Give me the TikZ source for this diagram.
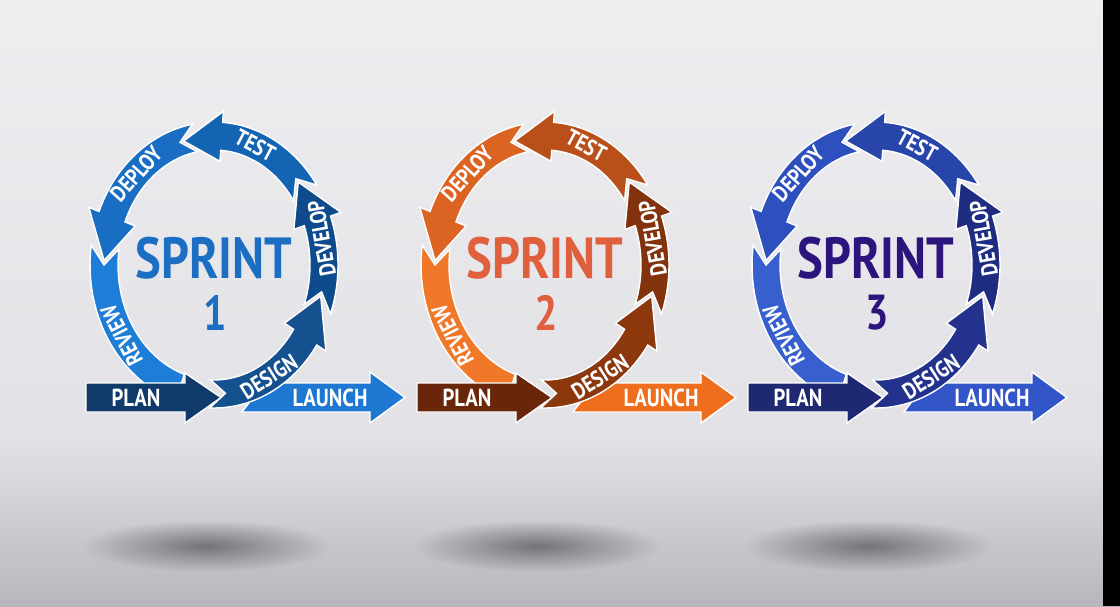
\documentclass[tikz,border=0pt]{standalone}
\usepackage{fontspec}
\newfontfamily\sprintfont{PT Sans}[FakeStretch=0.84]
\usepackage{xcolor}
\usepackage{tikz}
\usetikzlibrary{fadings}

% colour sets: a = blue, b = orange, c = indigo
\definecolor{aplan}{HTML}{0F3A69}
\definecolor{adesign}{HTML}{15508F}
\definecolor{adevelop}{HTML}{0F4B8C}
\definecolor{atest}{HTML}{1464B4}
\definecolor{adeploy}{HTML}{196EC3}
\definecolor{areview}{HTML}{1E7DD7}
\definecolor{alaunch}{HTML}{1E78D2}
\definecolor{atitle}{HTML}{1C6EC3}

\definecolor{bplan}{HTML}{69260A}
\definecolor{bdesign}{HTML}{8C370C}
\definecolor{bdevelop}{HTML}{82320C}
\definecolor{btest}{HTML}{B95019}
\definecolor{bdeploy}{HTML}{DC6423}
\definecolor{breview}{HTML}{F07828}
\definecolor{blaunch}{HTML}{EE6E1E}
\definecolor{btitle}{HTML}{E0603E}

\definecolor{cplan}{HTML}{1E2873}
\definecolor{cdesign}{HTML}{23328C}
\definecolor{cdevelop}{HTML}{1E2D82}
\definecolor{ctest}{HTML}{2846AA}
\definecolor{cdeploy}{HTML}{2D50BE}
\definecolor{creview}{HTML}{375FCD}
\definecolor{claunch}{HTML}{3255C8}
\definecolor{ctitle}{HTML}{2D147D}

\definecolor{bgtop}{RGB}{238,238,241}
\definecolor{bgmid}{RGB}{226,226,230}
\definecolor{bgbot}{RGB}{182,182,188}
\definecolor{shadowc}{RGB}{95,95,102}

\tikzfading[name=softblur,inner color=transparent!0,outer color=transparent!100]

% ring geometry, in px
\def\rx{110}\def\ry{129}\def\bh{14}\def\hh{25}\def\hl{20}\def\nd{8}

% curved band with arrow head: cx, cy, tail angle, tip angle, colour
\newcommand{\ringseg}[5]{%
  \fill[#5,draw=white,line width=0.8pt]
    plot[domain=#3:#4-\hl,samples=25] ({#1+(\rx+\bh)*cos(\x)},{#2-(\ry+\bh)*sin(\x)})
    -- ({#1+(\rx+\hh)*cos(#4-\hl)},{#2-(\ry+\hh)*sin(#4-\hl)})
    -- ({#1+\rx*cos(#4)},{#2-\ry*sin(#4)})
    -- ({#1+(\rx-\hh)*cos(#4-\hl)},{#2-(\ry-\hh)*sin(#4-\hl)})
    -- plot[domain=#4-\hl:#3,samples=25] ({#1+(\rx-\bh)*cos(\x)},{#2-(\ry-\bh)*sin(\x)})
    -- ({#1+\rx*cos(#3+\nd)},{#2-\ry*sin(#3+\nd)})
    -- cycle;}
% curved band with flat end
\newcommand{\ringend}[5]{%
  \fill[#5,draw=white,line width=0.8pt]
    plot[domain=#3:#4,samples=25] ({#1+(\rx+\bh)*cos(\x)},{#2-(\ry+\bh)*sin(\x)})
    -- plot[domain=#4:#3,samples=25] ({#1+(\rx-\bh)*cos(\x)},{#2-(\ry-\bh)*sin(\x)})
    -- ({#1+\rx*cos(#3+\nd)},{#2-\ry*sin(#3+\nd)})
    -- cycle;}

% one sprint: centre x, number, colour prefix
\newcommand{\drawsprint}[3]{%
  % floor shadow
  \fill[shadowc,path fading=softblur,fill opacity=0.8] ({#1-8},546) ellipse [x radius=125,y radius=26];
  % ring
  \ringend{#1}{265}{172}{252}{#3review}
  \ringseg{#1}{265}{100}{178}{#3deploy}
  \ringseg{#1}{265}{34}{106}{#3test}
  \ringseg{#1}{265}{-20}{40}{#3develop}
  % launch runs under design
  \fill[#3launch,draw=white,line width=0.8pt] ({#1+28},412) -- ({#1+156},412) -- ({#1+156},423)
    -- ({#1+191},397.5) -- ({#1+156},372) -- ({#1+156},383) -- ({#1+50},383) -- cycle;
  \ringseg{#1}{265}{-92}{-14}{#3design}
  \fill[#3plan,draw=white,line width=0.8pt] ({#1-128},383) -- ({#1-29},383) -- ({#1-29},373)
    -- ({#1+7},397.5) -- ({#1-29},423) -- ({#1-29},412) -- ({#1-128},412) -- cycle;
  % texts
  \node[title,text=#3title] (sprint#2) at (#1,258) {SPRINT};
  \node[number,text=#3title] (num#2) at ({#1+1},313) {#2};
  \node[lbl,rotate=32] (design#2) at ({#1+\rx*cos(-60)},{265-\ry*sin(-60)}) {DESIGN};
  \node[lbl,rotate=100] (develop#2) at ({#1+\rx*cos(12)},{265-\ry*sin(12)}) {DEVELOP};
  \node[lbl,rotate=-28] (test#2) at ({#1+\rx*cos(68)},{265-\ry*sin(68)}) {TEST};
  \node[lbl,rotate=48] (deploy#2) at ({#1+\rx*cos(135)},{265-\ry*sin(135)}) {DEPLOY};
  \node[lbl,rotate=117] (review#2) at ({#1+\rx*cos(213)},{265-\ry*sin(213)}) {REVIEW};
  \node[arrowlbl] (plan#2) at ({#1-78},398) {PLAN};
  \node[arrowlbl] (launch#2) at ({#1+116},398) {LAUNCH};
}

\begin{document}
\begin{tikzpicture}[
  x=0.02cm,y=-0.02cm,
  lbl/.style={font=\sprintfont\bfseries\fontsize{13}{14}\selectfont,text=white,inner sep=0pt},
  arrowlbl/.style={lbl,font=\sprintfont\bfseries\fontsize{14}{15}\selectfont},
  title/.style={font=\sprintfont\bfseries\fontsize{33}{36}\selectfont,inner sep=0pt},
  number/.style={font=\sprintfont\bfseries\fontsize{28}{30}\selectfont,inner sep=0pt},
]
\useasboundingbox (0,0) rectangle (1120,606);
% backdrop
\shade[top color=bgtop,bottom color=bgmid] (0,0) rectangle (1120,441);
\shade[top color=bgmid,bottom color=bgbot] (0,440) rectangle (1120,606);

% the three sprints
\drawsprint{214}{1}{a}
\drawsprint{545}{2}{b}
\drawsprint{876}{3}{c}

% right edge
\fill[black] (1103,0) rectangle (1120,606);
\end{tikzpicture}
\end{document}
